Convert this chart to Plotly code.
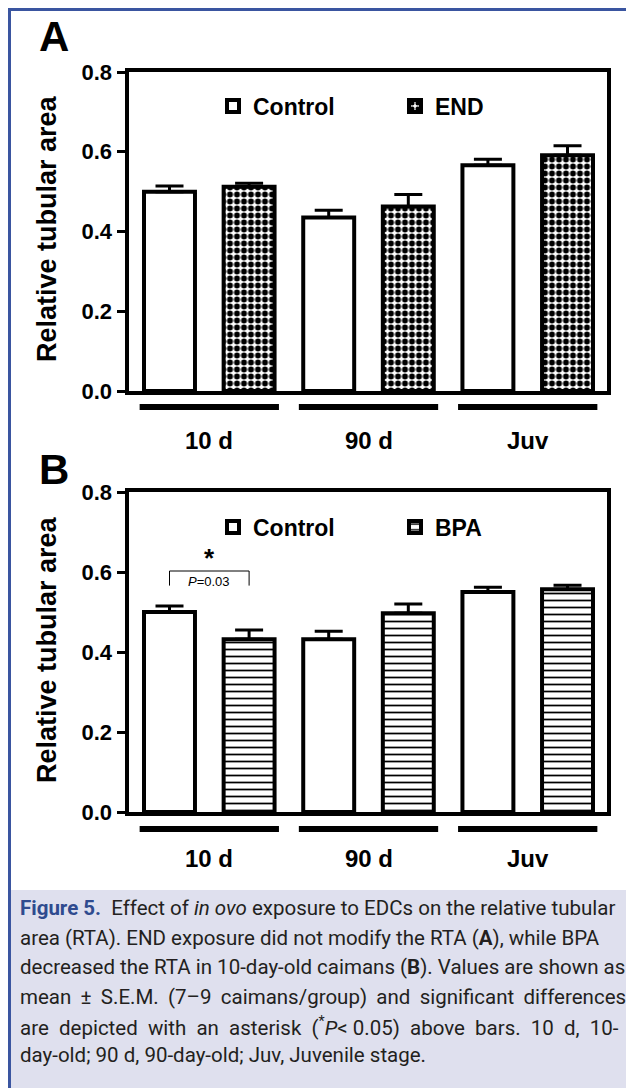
import plotly.graph_objects as go

# ---------------- data ----------------
groups = ["10 d", "90 d", "Juv"]
ctrl_A = [0.500, 0.435, 0.566]
ctrl_A_err = [0.014, 0.018, 0.015]
end_A = [0.512, 0.463, 0.591]
end_A_err = [0.009, 0.030, 0.024]

ctrl_B = [0.500, 0.432, 0.550]
ctrl_B_err = [0.015, 0.020, 0.012]
bpa_B = [0.432, 0.497, 0.557]
bpa_B_err = [0.023, 0.023, 0.010]

yticks = [0.0, 0.2, 0.4, 0.6, 0.8]
panel_labels = ["A", "B"]
legend_names_A = ["Control", "END"]
legend_names_B = ["Control", "BPA"]
sig_star = "*"
sig_p = "<i>P</i>=0.03"

TS = "\u2009"   # thin space, used to imitate justified caption lines
NB = "\u00a0"
caption_lines = [
    "<b><span style='color:#2f4b8f'>Figure 5.</span></b>  Effect of <i>in ovo</i> exposure to EDCs on the relative tubular",
    "area (RTA). END exposure did not modify the RTA (<b>A</b>), while BPA",
    "decreased the RTA in 10-day-old caimans (<b>B</b>). Values are shown as",
    ("mean ± S.E.M. (7–9 caimans/group) and significant differences").replace(" ", " " + TS),
    ("are depicted with an asterisk (<sup>*</sup><i>P</i>&lt;" + NB + "0.05) above bars. 10 d, 10-").replace(" ", " " + NB),
    "day-old; 90 d, 90-day-old; Juv, Juvenile stage.",
]

# ---------------- geometry ----------------
W, H = 634, 1088
OFF = 8  # page body margin: reference pixel positions are shifted by this amount
def px_x(v): return (v - OFF) / W
def px_y(v): return 1 - (v - OFF) / H

FONT = "Liberation Sans, Arial, sans-serif"
x_ctrl = [2 * i for i in range(len(groups))]
x_trt = [2 * i + 1 for i in range(len(groups))]
BAR_W = 0.64
xrange_ = [-0.515, 5.496]
xdom = [px_x(128.5), px_x(607)]
ydomA = [px_y(391), px_y(72)]
ydomB = [px_y(812), px_y(492)]

fig = go.Figure()

def add_bars(xs, ys, errs, name, xa, ya, legend, pattern):
    fig.add_trace(go.Bar(
        x=xs, y=ys, name=name, width=BAR_W,
        xaxis=xa, yaxis=ya, legend=legend,
        marker=dict(color="white", line=dict(color="black", width=4), pattern=pattern),
        error_y=dict(type="data", array=errs, arrayminus=[0] * len(errs), symmetric=False,
                     color="black", thickness=3, width=14),
    ))

checker = dict(shape=".", fgcolor="black", bgcolor="white", size=7, solidity=0.55, fillmode="replace")
hlines = dict(shape="-", fgcolor="black", bgcolor="white", size=7, solidity=0.25, fillmode="replace")

add_bars(x_ctrl, ctrl_A, ctrl_A_err, legend_names_A[0], "x", "y", "legend", None)
add_bars(x_trt, end_A, end_A_err, legend_names_A[1], "x", "y", "legend", checker)
add_bars(x_ctrl, ctrl_B, ctrl_B_err, legend_names_B[0], "x2", "y2", "legend2", None)
add_bars(x_trt, bpa_B, bpa_B_err, legend_names_B[1], "x2", "y2", "legend2", hlines)

xa_common = dict(range=xrange_, domain=xdom, showticklabels=False, ticks="", showgrid=False,
                 zeroline=False, showline=True, linecolor="black", linewidth=4, mirror=True,
                 fixedrange=True)
ya_common = dict(range=[0, 0.8], tickvals=yticks, tickformat=".1f", ticks="outside", ticklen=8,
                 tickwidth=3, tickcolor="black", showgrid=False, zeroline=False, showline=True,
                 linecolor="black", linewidth=4, mirror=True,
                 tickfont=dict(family=FONT, size=22, color="black", weight="bold"))

leg_common = dict(orientation="h", xanchor="left", yanchor="middle", bgcolor="rgba(0,0,0,0)",
                  font=dict(family=FONT, size=23, weight="bold"),
                  entrywidth=137, entrywidthmode="pixels", traceorder="normal")

fig.update_layout(
    width=W, height=H, margin=dict(l=0, r=0, t=0, b=0, autoexpand=False),
    paper_bgcolor="white", plot_bgcolor="white", barmode="overlay",
    font=dict(family=FONT, color="black"),
    xaxis=dict(**xa_common, anchor="y"),
    yaxis=dict(**ya_common, domain=ydomA, anchor="x"),
    xaxis2=dict(**xa_common, anchor="y2"),
    yaxis2=dict(**ya_common, domain=ydomB, anchor="x2"),
    legend=dict(**leg_common, x=px_x(213), y=px_y(106)),
    legend2=dict(**leg_common, x=px_x(213), y=px_y(527)),
    showlegend=True,
)

shapes = []
annotations = []

# frame and caption box
shapes.append(dict(type="rect", xref="paper", yref="paper", x0=0, x1=1, y0=0, y1=px_y(890),
                   fillcolor="#dfe0ee", line=dict(width=0), layer="below"))
shapes.append(dict(type="line", xref="paper", yref="paper", x0=0, x1=1, y0=1 - 1.5 / H, y1=1 - 1.5 / H,
                   line=dict(color="#3a55a0", width=3)))
shapes.append(dict(type="line", xref="paper", yref="paper", x0=1.5 / W, x1=1.5 / W, y0=0, y1=1,
                   line=dict(color="#3a55a0", width=3)))

# group underlines and labels
for xa, ya_dom, gy, ly in [("x", "y domain", -0.05, -0.155), ("x2", "y2 domain", -0.053, -0.145)]:
    for i, g in enumerate(groups):
        shapes.append(dict(type="line", xref=xa, yref=ya_dom, x0=2 * i - 0.375, x1=2 * i + 1.375,
                           y0=gy, y1=gy, line=dict(color="black", width=6)))
        annotations.append(dict(xref=xa, yref=ya_dom, x=2 * i + 0.5, y=ly, text=g, showarrow=False,
                                font=dict(family=FONT, size=24, color="black", weight="bold"),
                                xanchor="center", yanchor="middle"))

# panel letters and y titles
for lab, yc, ycen in [(panel_labels[0], 37, 229), (panel_labels[1], 470, 650)]:
    annotations.append(dict(xref="paper", yref="paper", x=px_x(37), y=px_y(yc), text=lab, showarrow=False,
                            xanchor="left", yanchor="middle",
                            font=dict(family=FONT, size=42, color="black", weight="bold")))
    annotations.append(dict(xref="paper", yref="paper", x=px_x(47), y=px_y(ycen), text="Relative tubular area",
                            textangle=-90, showarrow=False, xanchor="center", yanchor="middle",
                            font=dict(family=FONT, size=27, color="black", weight="bold")))

# significance bracket in B (between bar 0 and 1)
shapes.append(dict(type="path", xref="x2", yref="y2",
                   path=f"M {x_ctrl[0]},0.566 L {x_ctrl[0]},0.6025 L {x_trt[0]},0.6025 L {x_trt[0]},0.566",
                   line=dict(color="black", width=1)))
annotations.append(dict(xref="x2", yref="y2", x=(x_ctrl[0] + x_trt[0]) / 2, y=0.576, text=sig_p,
                        showarrow=False, font=dict(family=FONT, size=13, color="black"),
                        xanchor="center", yanchor="middle"))
annotations.append(dict(xref="x2", yref="y2", x=(x_ctrl[0] + x_trt[0]) / 2, y=0.634, text=sig_star,
                        showarrow=False, font=dict(family=FONT, size=26, color="black", weight="bold"),
                        xanchor="center", yanchor="middle"))

# caption
cap_y = [908, 938, 967, 997, 1026, 1055]
for t, yy in zip(caption_lines, cap_y):
    annotations.append(dict(xref="paper", yref="paper", x=px_x(18), y=px_y(yy), text=t, showarrow=False,
                            xanchor="left", yanchor="middle", align="left",
                            font=dict(family="Roboto, Noto Sans, sans-serif", size=20.5, color="#231f20")))

fig.update_layout(shapes=shapes, annotations=annotations)
fig.write_html("out.html")
